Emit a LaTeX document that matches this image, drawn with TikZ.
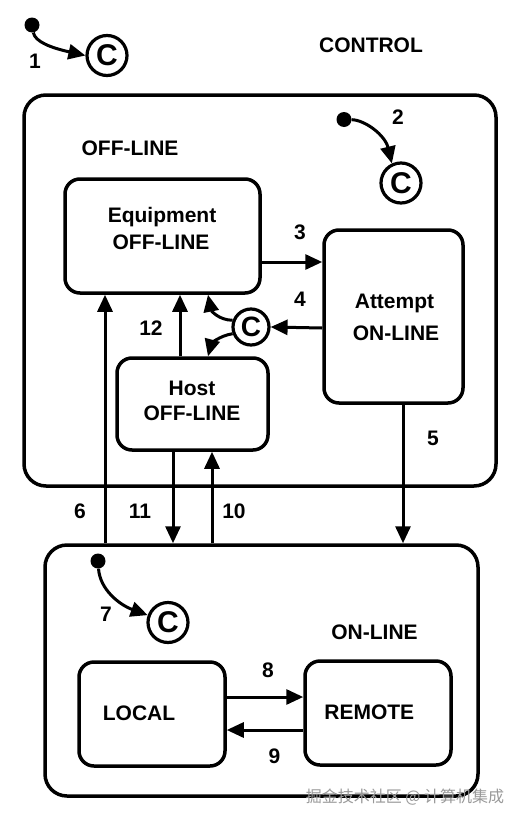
\documentclass[tikz,border=0pt]{standalone}
\usepackage{fontspec}
\setmainfont{Liberation Sans}
\newfontfamily\cjk{Noto Sans CJK SC}
\usetikzlibrary{arrows.meta}
\begin{document}
\begin{tikzpicture}[x=1pt,y=-1pt,
  box/.style={draw, line width=3.5pt, rounded corners=15pt, inner sep=0pt},
  outerbox/.style={draw, line width=3.5pt, rounded corners=22pt, inner sep=0pt},
  lbl/.style={font=\fontsize{21}{24}\selectfont\bfseries, anchor=base, inner sep=0pt},
  cnode/.style={draw, circle, line width=3.2pt, minimum size=40pt, inner sep=0pt, font=\fontsize{30}{30}\selectfont\bfseries},
  arr/.style={line width=3pt, -{Triangle[length=17pt,width=15pt]}},
  dotn/.style={circle, fill, minimum size=15pt, inner sep=0pt}
]
\useasboundingbox (0,0) rectangle (522,822);

% boxes
\node[outerbox, minimum width=472pt, minimum height=391pt] (off) at (260,290.5) {};
\node[outerbox, minimum width=433pt, minimum height=251pt] (on) at (261.5,670.5) {};
\node[box, minimum width=195pt, minimum height=114pt] (eq) at (162.5,236) {};
\node[box, minimum width=139pt, minimum height=173pt] (att) at (393.5,316.5) {};
\node[box, minimum width=151pt, minimum height=92pt] (host) at (192.5,404) {};
\node[box, minimum width=146pt, minimum height=104pt] (loc) at (152,714) {};
\node[box, minimum width=146pt, minimum height=104pt] (rem) at (378,713) {};

% box texts
\node[lbl] (tcontrol) at (371,52) {CONTROL};
\node[lbl] (toff) at (130,155) {OFF-LINE};
\node[lbl] (teq1) at (162,222.7) {Equipment};
\node[lbl] (teq2) at (161,249.3) {OFF-LINE};
\node[lbl] (tatt1) at (394.5,308) {Attempt};
\node[lbl] (tatt2) at (396,340) {ON-LINE};
\node[lbl] (thost1) at (192,395) {Host};
\node[lbl] (thost2) at (192,420) {OFF-LINE};
\node[lbl] (ton) at (374.5,639.3) {ON-LINE};
\node[lbl] (tloc) at (139,720) {LOCAL};
\node[lbl] (trem) at (369.3,719.3) {REMOTE};

% C nodes and dots
\node[cnode] (c1) at (107,55.5) {C};
\node[cnode] (c2) at (401,183) {C};
\node[cnode, minimum size=36pt, font=\fontsize{28}{28}\selectfont\bfseries] (cm) at (251,327) {C};
\node[cnode] (c7) at (168,622.5) {C};
\node[dotn] (d1) at (32,25) {};
\node[dotn] (d2) at (344,119.5) {};
\node[dotn] (d7) at (98,561) {};

% curved default arrows
\draw[arr] (d1) .. controls (35,42) and (52,48) .. (c1.west);
\draw[arr] (d2) .. controls (365,120) and (385,135) .. (c2.115);
\draw[arr] (d7) .. controls (100,590) and (120,605) .. (c7.160);
\draw[arr] (cm.160) .. controls (218,320) and (211,310) .. (eq.south -| 208,0);
\draw[arr] (cm.200) .. controls (218,336) and (211,345) .. (host.north -| 208,0);

% straight transitions
\draw[arr] (eq.east |- 0,262) -- (att.west |- 0,262);
\draw[arr] (att.west |- 0,328) -- (cm.east);
\draw[arr] (att.south -| 403,0) -- (on.north -| 403,0);
\draw[arr] (on.north -| 105,0) -- (eq.south -| 105,0);
\draw[arr] (host.north -| 180,0) -- (eq.south -| 180,0);
\draw[arr] (host.south -| 173,0) -- (on.north -| 173,0);
\draw[arr] (on.north -| 212,0) -- (host.south -| 212,0);
\draw[arr] (loc.east |- 0,697) -- (rem.west |- 0,697);
\draw[arr] (rem.west |- 0,730) -- (loc.east |- 0,730);

% numbers
\node[lbl] (n1) at (35,68) {1};
\node[lbl] (n2) at (398,124) {2};
\node[lbl] (n3) at (300,239.3) {3};
\node[lbl] (n4) at (300,306) {4};
\node[lbl] (n5) at (433,445) {5};
\node[lbl] (n6) at (80,518.3) {6};
\node[lbl] (n7) at (106,621.7) {7};
\node[lbl] (n8) at (268,677.3) {8};
\node[lbl] (n9) at (274.5,763.3) {9};
\node[lbl] (n10) at (234,518.3) {10};
\node[lbl] (n11) at (140,518.3) {11};
\node[lbl] (n12) at (151,335) {12};

% watermark
\node[font=\cjk\fontsize{16}{16}\selectfont, text=black!40, inner sep=0pt] (wm) at (405,797) {掘金技术社区 @ 计算机集成};
\end{tikzpicture}
\end{document}
